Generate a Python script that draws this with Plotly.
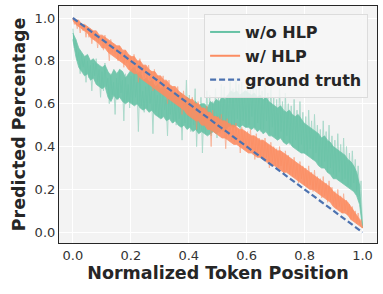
import numpy as np
import plotly.graph_objects as go

# ---- data (evenly spaced along normalized token position) ----
# noisy samples (spikes)
wo_hlp = [
    0.95, 0.86, 0.90, 0.80, 0.84, 0.74, 0.83, 0.77, 0.81, 0.70,
    0.80, 0.72, 0.78, 0.66, 0.79, 0.73, 0.81, 0.70, 0.76, 0.63,
    0.75, 0.66, 0.79, 0.68, 0.72, 0.60, 0.74, 0.64, 0.70, 0.55,
    0.72, 0.62, 0.76, 0.65, 0.71, 0.52, 0.74, 0.61, 0.69, 0.58,
    0.73, 0.60, 0.77, 0.63, 0.70, 0.47, 0.72, 0.59, 0.66, 0.56,
    0.68, 0.57, 0.71, 0.60, 0.66, 0.46, 0.69, 0.56, 0.64, 0.54,
    0.65, 0.53, 0.68, 0.57, 0.62, 0.45, 0.66, 0.55, 0.63, 0.51,
    0.61, 0.50, 0.66, 0.53, 0.59, 0.43, 0.62, 0.51, 0.71, 0.49,
    0.64, 0.47, 0.62, 0.50, 0.67, 0.40, 0.59, 0.48, 0.63, 0.37,
    0.58, 0.46, 0.66, 0.50, 0.64, 0.45, 0.61, 0.48, 0.67, 0.44,
    0.63, 0.48, 0.69, 0.51, 0.68, 0.47, 0.64, 0.50, 0.71, 0.49,
    0.67, 0.50, 0.72, 0.53, 0.69, 0.48, 0.70, 0.52, 0.66, 0.49,
    0.69, 0.50, 0.68, 0.54, 0.71, 0.48, 0.67, 0.51, 0.70, 0.47,
    0.66, 0.48, 0.69, 0.52, 0.65, 0.46, 0.68, 0.49, 0.63, 0.45,
    0.62, 0.44, 0.67, 0.47, 0.61, 0.42, 0.65, 0.45, 0.60, 0.41,
    0.59, 0.40, 0.62, 0.43, 0.57, 0.38, 0.61, 0.41, 0.56, 0.37,
    0.54, 0.36, 0.57, 0.39, 0.52, 0.34, 0.55, 0.37, 0.50, 0.32,
    0.48, 0.31, 0.52, 0.33, 0.47, 0.28, 0.50, 0.30, 0.45, 0.27,
    0.43, 0.26, 0.46, 0.28, 0.41, 0.24, 0.44, 0.25, 0.40, 0.22,
    0.37, 0.21, 0.38, 0.23, 0.34, 0.19, 0.31, 0.17, 0.24, 0.03,
]

w_hlp = [
    1.00, 0.97, 0.99, 0.95, 0.98, 0.93, 0.97, 0.94, 0.96, 0.91,
    0.96, 0.91, 0.95, 0.88, 0.94, 0.90, 0.93, 0.86, 0.92, 0.89,
    0.91, 0.85, 0.92, 0.87, 0.89, 0.80, 0.90, 0.84, 0.88, 0.83,
    0.86, 0.80, 0.87, 0.81, 0.84, 0.77, 0.85, 0.79, 0.83, 0.76,
    0.82, 0.75, 0.83, 0.76, 0.80, 0.70, 0.81, 0.74, 0.78, 0.72,
    0.77, 0.70, 0.78, 0.71, 0.75, 0.66, 0.76, 0.69, 0.73, 0.67,
    0.72, 0.65, 0.73, 0.66, 0.70, 0.60, 0.71, 0.64, 0.68, 0.62,
    0.67, 0.60, 0.68, 0.61, 0.65, 0.55, 0.66, 0.59, 0.63, 0.57,
    0.62, 0.55, 0.63, 0.56, 0.60, 0.48, 0.61, 0.54, 0.58, 0.52,
    0.58, 0.50, 0.59, 0.51, 0.56, 0.40, 0.57, 0.49, 0.54, 0.47,
    0.54, 0.46, 0.55, 0.47, 0.52, 0.39, 0.53, 0.45, 0.51, 0.43,
    0.50, 0.42, 0.51, 0.43, 0.48, 0.37, 0.49, 0.41, 0.47, 0.39,
    0.47, 0.38, 0.48, 0.39, 0.45, 0.34, 0.46, 0.37, 0.44, 0.35,
    0.43, 0.34, 0.44, 0.35, 0.41, 0.30, 0.42, 0.33, 0.40, 0.31,
    0.39, 0.30, 0.40, 0.31, 0.37, 0.27, 0.38, 0.29, 0.36, 0.27,
    0.34, 0.26, 0.35, 0.26, 0.32, 0.23, 0.33, 0.25, 0.31, 0.22,
    0.30, 0.21, 0.31, 0.22, 0.28, 0.19, 0.29, 0.20, 0.26, 0.18,
    0.25, 0.16, 0.26, 0.17, 0.23, 0.14, 0.24, 0.15, 0.21, 0.13,
    0.19, 0.11, 0.20, 0.12, 0.17, 0.09, 0.18, 0.10, 0.15, 0.08,
    0.13, 0.06, 0.12, 0.06, 0.10, 0.04, 0.09, 0.04, 0.06, 0.02,
]

# dense core of each series: upper / lower edges
wo_upper = [
    0.93, 0.90, 0.86, 0.84, 0.82, 0.83, 0.80, 0.81, 0.79, 0.78,
    0.77, 0.78, 0.75, 0.73, 0.76, 0.74, 0.76, 0.75, 0.72, 0.74,
    0.76, 0.77, 0.74, 0.75, 0.71, 0.72, 0.70, 0.71, 0.68, 0.69,
    0.67, 0.68, 0.66, 0.65, 0.66, 0.64, 0.63, 0.65, 0.62, 0.63,
    0.62, 0.60, 0.61, 0.59, 0.60, 0.60, 0.58, 0.61, 0.60, 0.62,
    0.61, 0.63, 0.62, 0.64, 0.66, 0.65, 0.66, 0.64, 0.65, 0.66,
    0.65, 0.64, 0.65, 0.63, 0.64, 0.62, 0.63, 0.61, 0.60, 0.59,
    0.58, 0.59, 0.57, 0.56, 0.57, 0.55, 0.54, 0.55, 0.53, 0.51,
    0.50, 0.49, 0.48, 0.47, 0.46, 0.44, 0.45, 0.43, 0.42, 0.40,
    0.39, 0.38, 0.37, 0.36, 0.34, 0.33, 0.31, 0.28, 0.22, 0.04,
]
wo_lower = [
    0.90, 0.82, 0.77, 0.75, 0.73, 0.74, 0.71, 0.72, 0.69, 0.68,
    0.67, 0.68, 0.63, 0.61, 0.64, 0.62, 0.63, 0.61, 0.60, 0.61,
    0.60, 0.59, 0.60, 0.58, 0.57, 0.58, 0.56, 0.57, 0.55, 0.54,
    0.53, 0.54, 0.52, 0.53, 0.51, 0.52, 0.50, 0.49, 0.50, 0.48,
    0.49, 0.47, 0.48, 0.46, 0.47, 0.46, 0.45, 0.46, 0.47, 0.46,
    0.47, 0.48, 0.47, 0.49, 0.50, 0.49, 0.50, 0.49, 0.50, 0.49,
    0.49, 0.48, 0.49, 0.47, 0.48, 0.46, 0.47, 0.45, 0.45, 0.44,
    0.43, 0.44, 0.42, 0.41, 0.42, 0.40, 0.39, 0.38, 0.37, 0.37,
    0.36, 0.35, 0.34, 0.33, 0.31, 0.30, 0.30, 0.28, 0.27, 0.25,
    0.25, 0.24, 0.23, 0.22, 0.21, 0.20, 0.19, 0.17, 0.13, 0.02,
]
w_upper = [
    1.00, 0.99, 0.99, 0.97, 0.97, 0.96, 0.95, 0.94, 0.94, 0.92,
    0.92, 0.91, 0.90, 0.89, 0.88, 0.87, 0.87, 0.85, 0.85, 0.83,
    0.82, 0.82, 0.80, 0.80, 0.78, 0.78, 0.76, 0.75, 0.75, 0.73,
    0.73, 0.71, 0.71, 0.69, 0.68, 0.68, 0.66, 0.65, 0.64, 0.63,
    0.62, 0.62, 0.60, 0.60, 0.58, 0.58, 0.56, 0.56, 0.54, 0.54,
    0.53, 0.52, 0.52, 0.51, 0.50, 0.50, 0.49, 0.48, 0.48, 0.47,
    0.46, 0.45, 0.45, 0.44, 0.43, 0.43, 0.42, 0.41, 0.40, 0.39,
    0.38, 0.38, 0.37, 0.36, 0.35, 0.34, 0.33, 0.32, 0.31, 0.30,
    0.29, 0.28, 0.27, 0.26, 0.25, 0.24, 0.23, 0.22, 0.21, 0.19,
    0.18, 0.17, 0.16, 0.15, 0.14, 0.12, 0.10, 0.08, 0.06, 0.02,
]
w_lower = [
    0.99, 0.97, 0.96, 0.95, 0.94, 0.93, 0.91, 0.90, 0.89, 0.88,
    0.86, 0.86, 0.84, 0.83, 0.82, 0.81, 0.80, 0.79, 0.78, 0.76,
    0.75, 0.74, 0.74, 0.72, 0.71, 0.70, 0.69, 0.68, 0.67, 0.66,
    0.65, 0.64, 0.63, 0.62, 0.61, 0.60, 0.59, 0.58, 0.57, 0.55,
    0.54, 0.53, 0.52, 0.52, 0.50, 0.50, 0.48, 0.48, 0.47, 0.46,
    0.45, 0.44, 0.44, 0.43, 0.42, 0.41, 0.41, 0.40, 0.39, 0.38,
    0.37, 0.37, 0.36, 0.35, 0.35, 0.34, 0.33, 0.32, 0.31, 0.31,
    0.30, 0.29, 0.28, 0.28, 0.27, 0.26, 0.25, 0.24, 0.23, 0.22,
    0.21, 0.20, 0.20, 0.19, 0.18, 0.17, 0.16, 0.15, 0.14, 0.12,
    0.11, 0.10, 0.09, 0.09, 0.08, 0.06, 0.05, 0.04, 0.03, 0.02,
]

truth_x = [0.0, 1.0]
truth_y = [1.0, 0.0]

tick_vals = [0.0, 0.2, 0.4, 0.6, 0.8, 1.0]
tick_text = ["0.0", "0.2", "0.4", "0.6", "0.8", "1.0"]

GREEN = "#66c2a5"
ORANGE = "#fc8d62"
BLUE = "#4c72b0"

fig = go.Figure()

def add_series(samples, upper, lower, color, spike_opacity, core_opacity):
    xs = np.linspace(0, 1, len(samples))
    fig.add_trace(go.Scatter(x=xs, y=samples, mode="lines",
                             line=dict(color=color, width=1.0), opacity=spike_opacity,
                             hoverinfo="skip", showlegend=False))
    xc = list(np.linspace(0, 1, len(upper)))
    fig.add_trace(go.Scatter(x=xc + xc[::-1], y=list(upper) + list(lower)[::-1],
                             mode="lines", fill="toself", fillcolor=color,
                             line=dict(width=0.8, color=color), opacity=core_opacity,
                             hoverinfo="skip", showlegend=False))

add_series(wo_hlp, wo_upper, wo_lower, GREEN, 0.5, 0.9)
add_series(w_hlp, w_upper, w_lower, ORANGE, 0.6, 0.9)

fig.add_trace(go.Scatter(x=[None], y=[None], mode="lines", name="<b>w/o HLP</b>",
                         line=dict(color=GREEN, width=2)))
fig.add_trace(go.Scatter(x=[None], y=[None], mode="lines", name="<b>w/ HLP</b>",
                         line=dict(color=ORANGE, width=2)))
fig.add_trace(go.Scatter(x=truth_x, y=truth_y, mode="lines", name="<b>ground truth</b>",
                         line=dict(color=BLUE, width=2.2, dash="6px,3px")))

axis_common = dict(
    tickvals=tick_vals, ticktext=tick_text,
    showgrid=True, gridcolor="white", gridwidth=1,
    zeroline=False, automargin=False,
    showline=True, linecolor="#262626", linewidth=1.2, mirror=True,
    ticks="", tickfont=dict(family="DejaVu Sans", size=13, color="#333333"),
)

fig.update_layout(
    width=383, height=294,
    margin=dict(l=59, r=6, t=6, b=51),
    paper_bgcolor="white", plot_bgcolor="#f3f3f3",
    font=dict(family="DejaVu Sans", color="#262626"),
    xaxis=dict(range=[-0.048, 1.05],
               title=dict(text="<b>Normalized Token Position</b>",
                          font=dict(family="DejaVu Sans", size=17.5, color="#262626"),
                          standoff=4),
               **axis_common),
    yaxis=dict(range=[-0.05, 1.056],
               title=dict(text="<b>Predicted Percentage</b>",
                          font=dict(family="DejaVu Sans", size=17.5, color="#262626"),
                          standoff=4),
               **axis_common),
    legend=dict(x=0.972, y=0.966, xanchor="right", yanchor="top",
                bgcolor="rgba(246,246,246,0.85)", bordercolor="#dcdcdc", borderwidth=1,
                font=dict(family="DejaVu Sans", size=16, color="#262626"),
                itemwidth=30, tracegroupgap=0),
    showlegend=True,
)

fig.write_html("out.html", config={"displayModeBar": False},
               post_script="document.body.style.margin='0';document.body.style.padding='0';")
